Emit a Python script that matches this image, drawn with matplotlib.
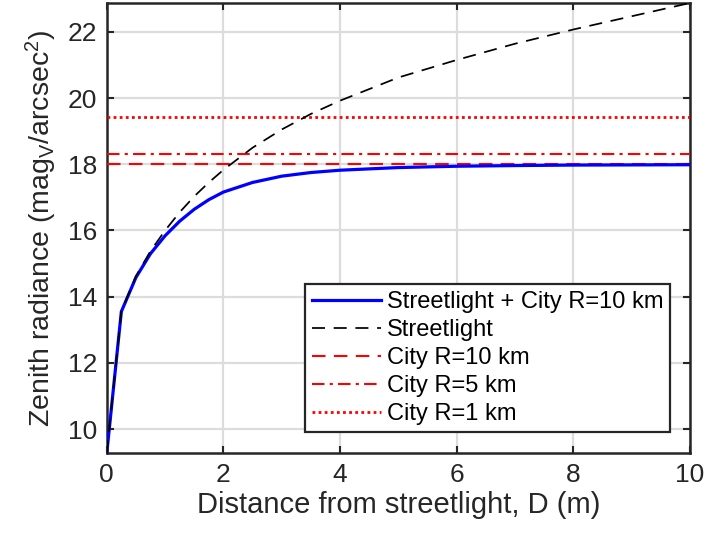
import matplotlib
matplotlib.use("Agg")
import matplotlib.pyplot as plt

plt.rcParams["font.family"] = ["Liberation Sans", "DejaVu Sans"]
plt.rcParams["mathtext.fontset"] = "custom"
plt.rcParams["mathtext.rm"] = "Liberation Sans"
plt.rcParams["mathtext.it"] = "Liberation Sans:italic"

# distance from streetlight (m)
distance = [0, 0.25, 0.5, 0.75, 1.0, 1.25, 1.5, 1.75, 2.0, 2.5, 3.0, 3.5, 4.0,
            5.0, 6.0, 7.0, 8.0, 9.0, 10.0]
# streetlight only (mag/arcsec^2)
streetlight = [9.27, 13.56, 14.62, 15.38, 16.0, 16.55, 17.03, 17.45, 17.83,
               18.5, 19.05, 19.52, 19.92, 20.62, 21.15, 21.64, 22.07, 22.47, 22.87]
# streetlight + city R=10 km
combined = [9.27, 13.55, 14.58, 15.3, 15.84, 16.28, 16.64, 16.93, 17.16,
            17.45, 17.64, 17.75, 17.82, 17.9, 17.94, 17.96, 17.975, 17.98, 17.985]
# city-only levels
city_10km = 18.0
city_5km = 18.3
city_1km = 19.42

dark = "#262626"

fig = plt.figure(figsize=(7.07, 5.35), dpi=100)
ax = fig.add_axes([0.151, 0.1527, 0.825, 0.8417])

ax.plot(distance, combined, color="#0000ff", lw=2.3, label="Streetlight + City R=10 km", zorder=4)
ax.plot(distance, streetlight, color="black", lw=1.25, ls=(0, (7.5, 5)), label="Streetlight", zorder=5)
ax.axhline(city_10km, color="#ff0000", lw=1.5, ls=(0, (6.5, 4)), label="City R=10 km", zorder=3)
ax.axhline(city_5km, color="#ff0000", lw=1.5, ls=(0, (6, 2.5, 1.5, 2.5)), label="City R=5 km", zorder=3)
ax.axhline(city_1km, color="#ff0000", lw=2.0, ls=(0, (1, 1.2)), label="City R=1 km", zorder=3)

ax.set_xlim(0, 10)
ax.set_ylim(9.27, 22.87)
ax.set_xticks(range(0, 11, 2))
ax.set_yticks(range(10, 23, 2))
ax.grid(True, color="#dcdcdc", lw=1.6)
ax.set_axisbelow(True)
ax.tick_params(direction="in", length=5, width=1.5, top=True, right=True,
               labelsize=19, colors=dark, pad=7)
for spine in ax.spines.values():
    spine.set_linewidth(1.8)
    spine.set_color(dark)

ax.set_xlabel("Distance from streetlight, D (m)", fontsize=21, color=dark, labelpad=3)
ax.set_ylabel("Zenith radiance (mag$_\\mathrm{V}$/arcsec$^2$)", fontsize=20.5, color=dark, labelpad=6)

leg = ax.legend(loc="lower right", bbox_to_anchor=(0.966, 0.047), fontsize=17,
                handlelength=2.9, handletextpad=0.25, labelspacing=0.25,
                borderpad=0.3, borderaxespad=0, fancybox=False, framealpha=1)
leg.get_frame().set_edgecolor(dark)
leg.get_frame().set_linewidth(1.6)

fig.savefig("out.png", dpi=100)
